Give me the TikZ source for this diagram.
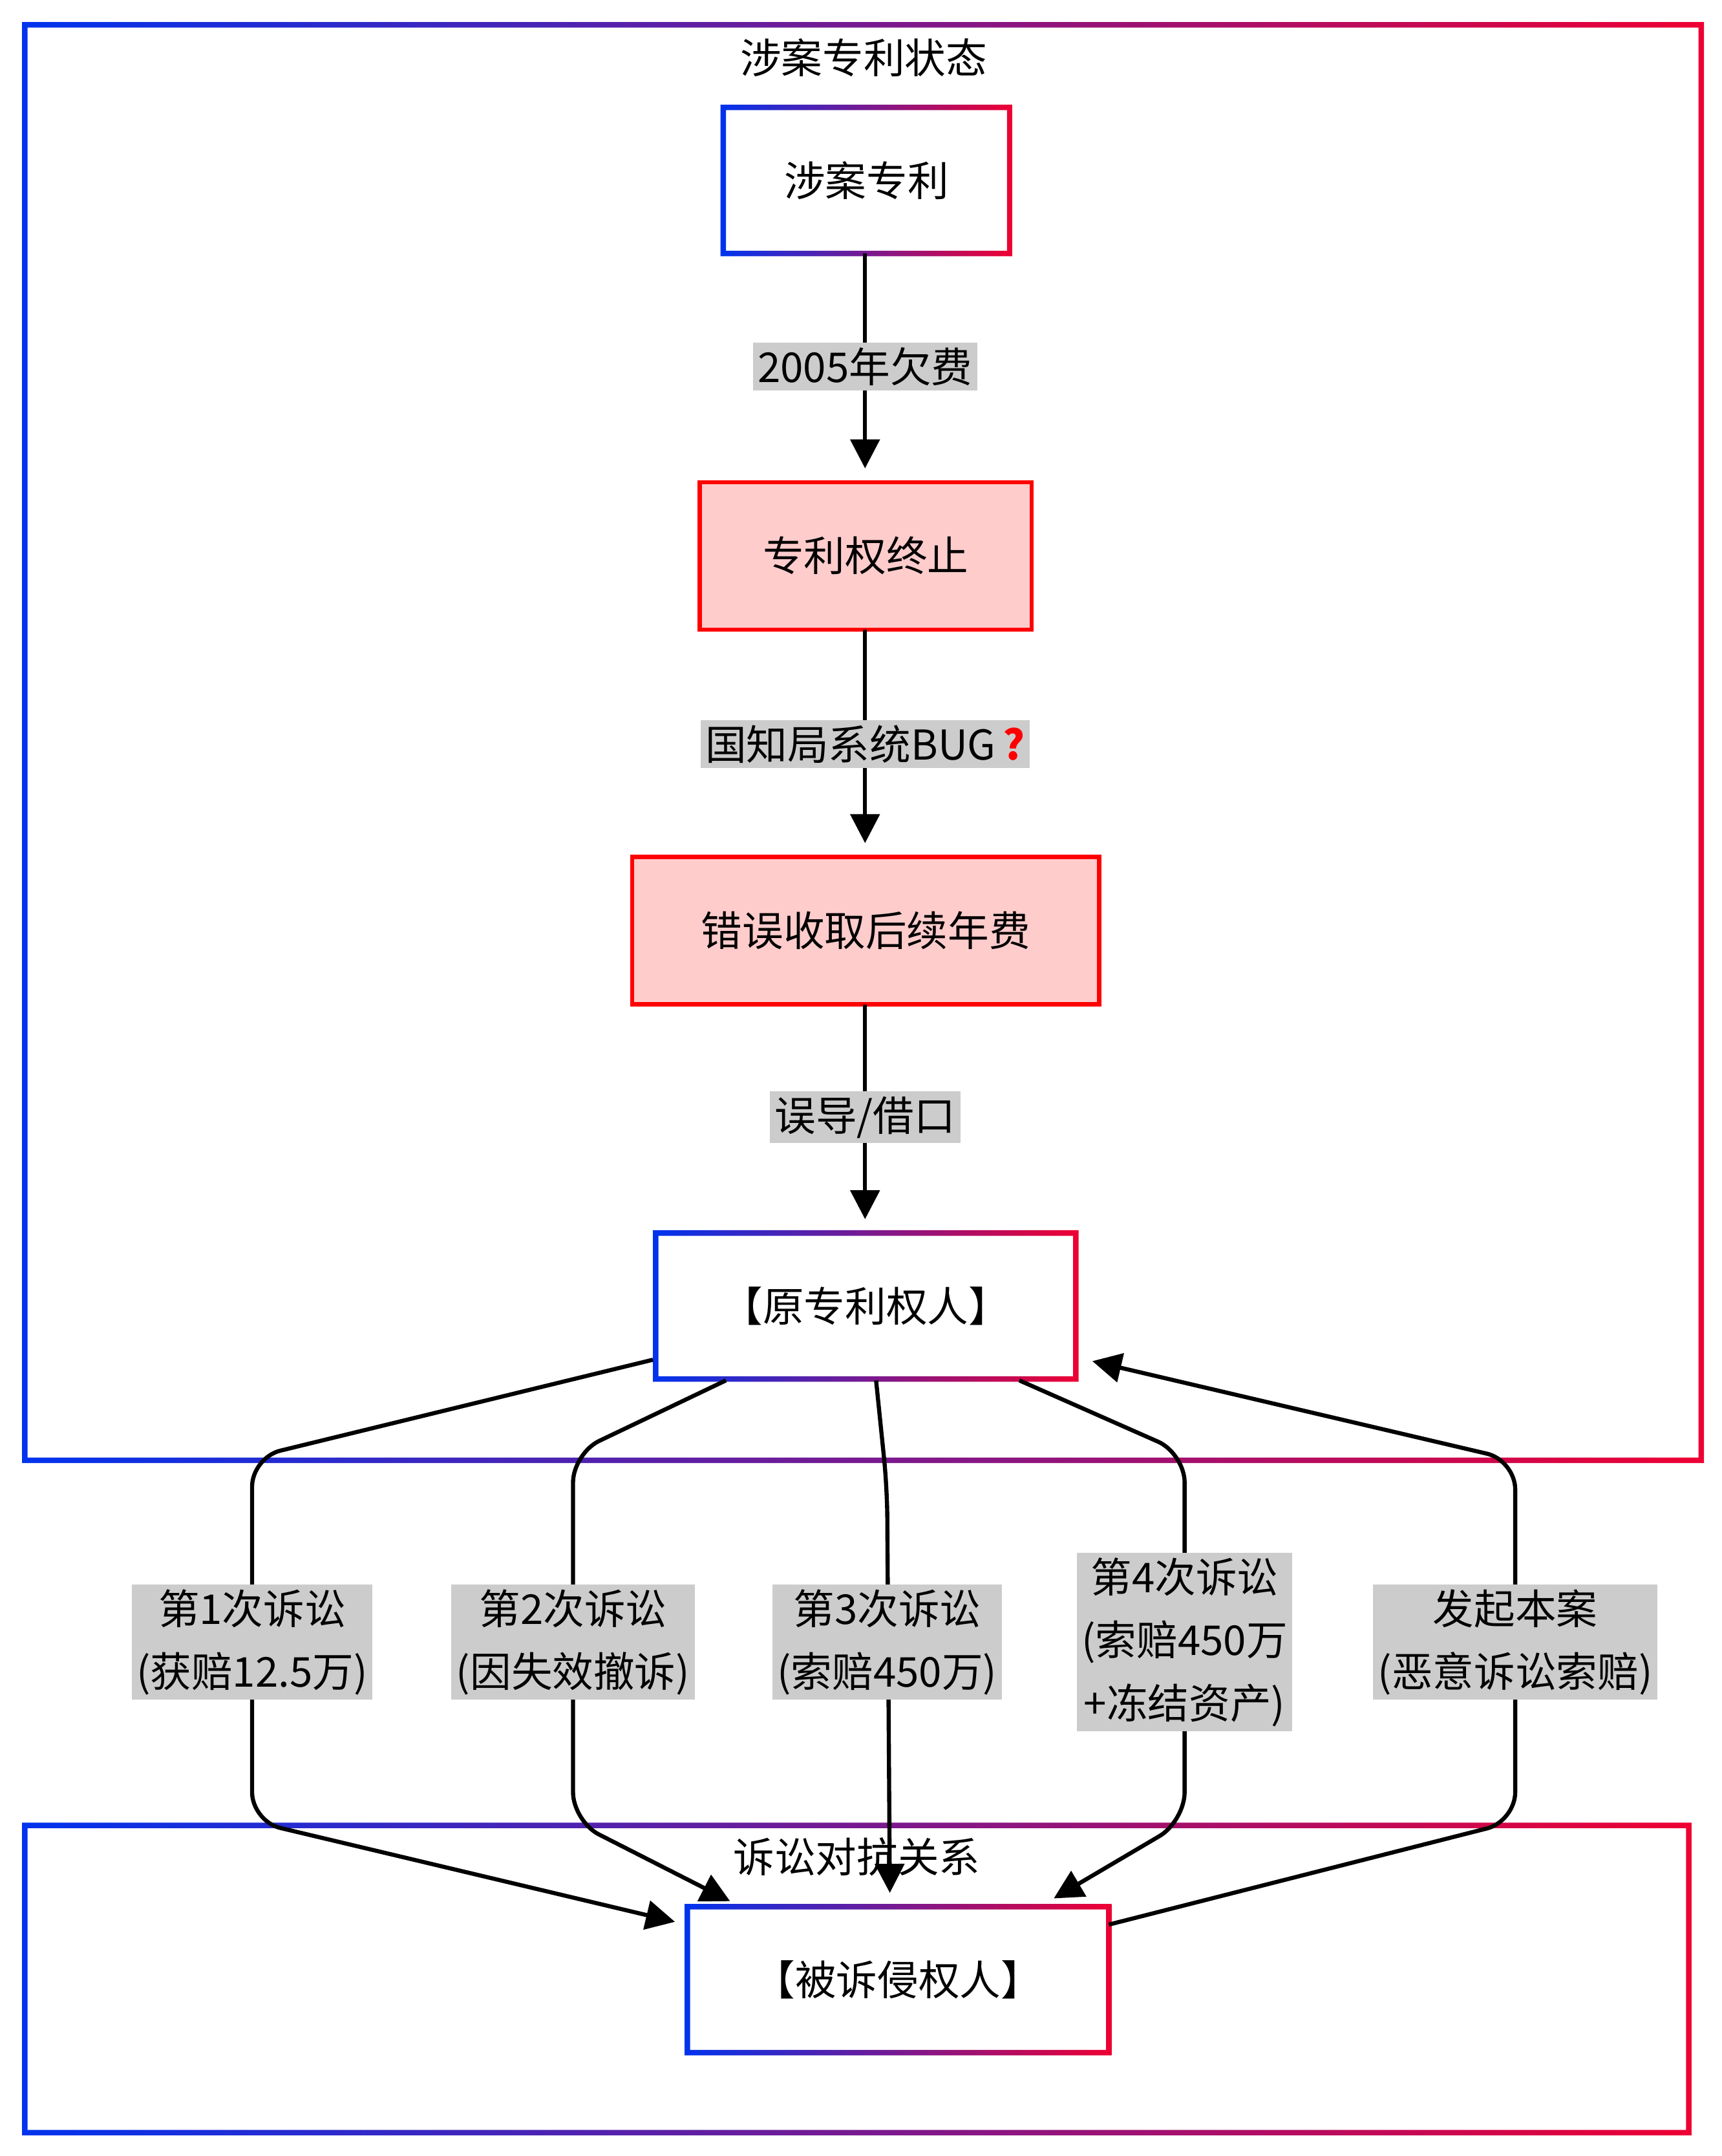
\documentclass[tikz,border=0pt]{standalone}
\usepackage{fontspec}
\setmainfont{Noto Sans CJK SC}
\usetikzlibrary{arrows.meta}
\definecolor{lblgray}{HTML}{CCCCCC}
\definecolor{pinkfill}{HTML}{FFCCCC}
\definecolor{gblue}{HTML}{0033EE}
\definecolor{gred}{HTML}{EE0033}
\tikzset{
  gframe/.style={left color=gblue,right color=gred,even odd rule},
  plain/.style={inner sep=0pt,font=\fontsize{17}{20}\selectfont},
  lbl/.style={fill=lblgray,inner sep=2pt,align=center,font=\fontsize{17}{26}\selectfont},
  edge/.style={line width=1.7pt,rounded corners=12pt,-{Triangle[length=12pt,width=12pt]}},
}
\newcommand{\gbox}[5]{% name, x1,y1,x2,y2
  \shade[gframe] (#2-2,#3-2) rectangle (#4+2,#5+2) (#2+2,#3+2) rectangle (#4-2,#5-2);
  \coordinate (#1) at ($(#2,#3)!0.5!(#4,#5)$);}
\usetikzlibrary{calc}
\begin{document}
\begin{tikzpicture}[x=0.02cm,y=-0.02cm]
        \useasboundingbox (0,0) rectangle (1250,1565);
        % frames
        \gbox{upper}{18}{18}{1235}{1060}
        \gbox{lower}{18}{1325}{1226}{1548}
        \node[plain] (uppertitle) at (627,42) {涉案专利状态};
        % boxes
        \gbox{patent}{525}{78}{733}{184}
        \node[plain] (patentt) at (patent) {涉案专利};
        \draw[red,line width=1.7pt,fill=pinkfill] (508,350) rectangle (749,457);
        \coordinate (ended) at (628.5,403.5);
        \node[plain] (endedt) at (ended) {专利权终止};
        \draw[red,line width=1.7pt,fill=pinkfill] (459,622) rectangle (798,729);
        \coordinate (fee) at (628.5,675.5);
        \node[plain] (feet) at (fee) {错误收取后续年费};
        \gbox{owner}{476}{895}{781}{1001}
        \node[plain] (ownert) at (owner) {【原专利权人】};
        \gbox{accused}{499}{1384}{805}{1490}
        \node[plain] (accusedt) at (accused) {【被诉侵权人】};
        \coordinate (p1) at (628,184);
        \coordinate (p2) at (628,340);
        \coordinate (e1) at (628,457);
        \coordinate (e2) at (628,612);
        \coordinate (f1) at (628,729);
        \coordinate (f2) at (628,885);
        \draw[edge] (p1) -- (p2);
        \draw[edge] (e1) -- (e2);
        \draw[edge] (f1) -- (f2);
        \node[lbl] (l1) at (628,266) {2005年欠费};
        \node[lbl] (l2) at (628,540) {国知局系统BUG\,\textcolor{red}{\textbf{?}}};
        \node[lbl] (l3) at (628,811) {误导/借口};
        % litigation
        \coordinate (o1) at (474,987);
        \coordinate (o2) at (527,1002);
        \coordinate (o3) at (636,1002);
        \coordinate (o4) at (740,1002);
        \coordinate (o5) at (793,988);
        \coordinate (a1) at (490,1395);
        \coordinate (a2) at (530,1380);
        \coordinate (a3) at (646,1374);
        \coordinate (a4) at (765,1378);
        \coordinate (a5) at (805,1397);
        \draw[edge] (o1) -- (183,1058) -- (183,1322) -- (a1);
        \draw[edge] (o2) -- (416,1055) -- (416,1322) -- (a2);
        \draw[edge] (o3) -- (644,1080) -- (a3);
        \draw[edge] (o4) -- (860,1055) -- (860,1322) -- (a4);
        \draw[edge] (a5) -- (1100,1322) -- (1100,1060) -- (o5);
        \node[plain] (lowertitle) at (622,1348) {诉讼对抗关系};
        \node[lbl] (s1) at (183,1192) {第1次诉讼\\(获赔12.5万)};
        \node[lbl] (s2) at (416,1192) {第2次诉讼\\(因失效撤诉)};
        \node[lbl] (s3) at (644,1192) {第3次诉讼\\(索赔450万)};
        \node[lbl] (s4) at (860,1192) {第4次诉讼\\(索赔450万\\+冻结资产)};
        \node[lbl] (s5) at (1100,1192) {发起本案\\(恶意诉讼索赔)};
    \end{tikzpicture}
\end{document}
